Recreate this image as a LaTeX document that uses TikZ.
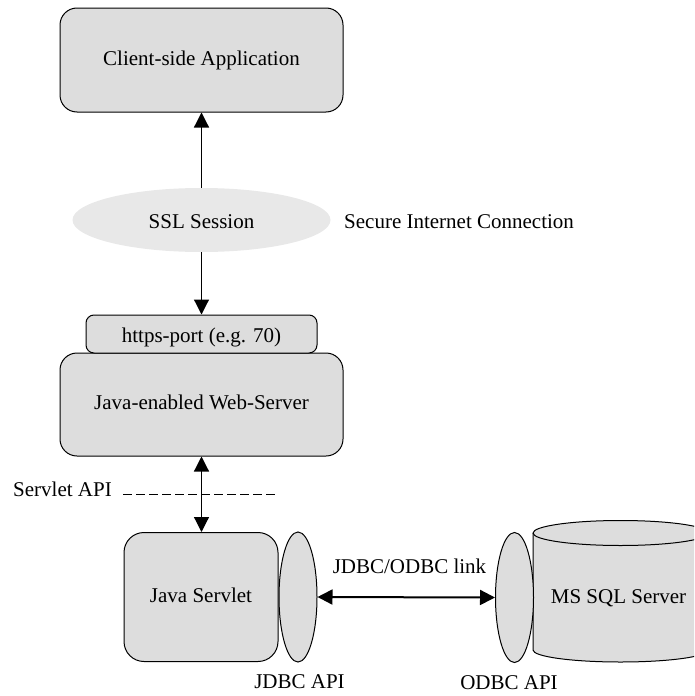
\documentclass[tikz,border=0pt]{standalone}
\usepackage{fontspec}
\setmainfont{Liberation Serif}
\usetikzlibrary{arrows.meta,shapes.geometric}
\definecolor{boxgray}{RGB}{221,221,221}
\definecolor{sslgray}{RGB}{232,232,232}
\tikzset{
  lbl/.style={font=\fontsize{21}{25}\selectfont, inner sep=0pt, text height=14.5pt, text depth=4.5pt},
  box/.style={lbl, draw=black, fill=boxgray, line width=1pt},
  apiell/.style={ellipse, draw=black, fill=boxgray, line width=1pt, inner sep=0pt, minimum width=38pt, minimum height=130pt},
  tip/.style={-{Triangle[length=15pt,width=15pt]}},
  dtip/.style={{Triangle[length=15pt,width=15pt]}-{Triangle[length=15pt,width=15pt]}},
  conn/.style={line width=1.2pt}
}
\begin{document}
\begin{tikzpicture}[x=1pt,y=-1pt]
\useasboundingbox (0,0) rectangle (694,696);
\clip (0,0) rectangle (694,696);
% boxes
\node[box, rounded corners=17pt, minimum width=283pt, minimum height=104pt] (client) at (201.5,60) {Client-side Application};
\node[lbl, ellipse, fill=sslgray, minimum width=258pt, minimum height=64pt, text height=17pt, text depth=1pt] (ssl) at (201.5,220) {SSL Session};
\node[lbl, anchor=base west] (sic) at (344,228) {Secure Internet Connection};
\node[box, rounded corners=17pt, minimum width=283pt, minimum height=103pt] (web) at (201.5,404.5) {Java-enabled Web-Server};
\node[box, rounded corners=8pt, minimum width=231pt, minimum height=38pt, text height=18pt, text depth=0.5pt] (https) at (201.5,334) {https-port (e.g. 70)};
\node[box, rounded corners=20pt, minimum width=154pt, minimum height=129pt] (servlet) at (201,597) {Java Servlet};
\node[apiell] (jdbc) at (298,597) {};
% cylinder
\fill[boxgray] (533,533) -- (533,650) arc[start angle=180,end angle=0,x radius=87.5,y radius=12] -- (708,533) arc[start angle=0,end angle=-180,x radius=87.5,y radius=12.5] -- cycle;
\draw[line width=1pt] (533,533) -- (533,650) arc[start angle=180,end angle=0,x radius=87.5,y radius=12] -- (708,533) arc[start angle=0,end angle=-180,x radius=87.5,y radius=12.5] -- cycle;
\draw[line width=1pt] (533,533) arc[start angle=180,end angle=0,x radius=87.5,y radius=12.5];
\node[lbl] (db) at (618.5,598) {MS SQL Server};
\node[apiell] (odbc) at (514.5,597.5) {};
% labels
\node[lbl, anchor=base west] (sapi) at (13,496) {Servlet API};
\node[lbl, anchor=base] (link) at (409.5,573) {JDBC/ODBC link};
\node[lbl, anchor=base] (japi) at (299.5,688) {JDBC API};
\node[lbl, anchor=base] (oapi) at (509,689) {ODBC API};
% connectors
\draw[conn, tip] (ssl.north) -- (client.south);
\draw[conn, tip] (ssl.south) -- (https.north);
\draw[conn, dtip] (web.south) -- (web.south |- servlet.north);
\draw[line width=2pt, dtip] (jdbc.east) -- (odbc.west);
\coordinate (d1) at (123,494);
\coordinate (d2) at (277,494);
\draw[line width=1pt, dash pattern=on 9pt off 4pt] (d1) -- (d2);
\end{tikzpicture}
\end{document}
